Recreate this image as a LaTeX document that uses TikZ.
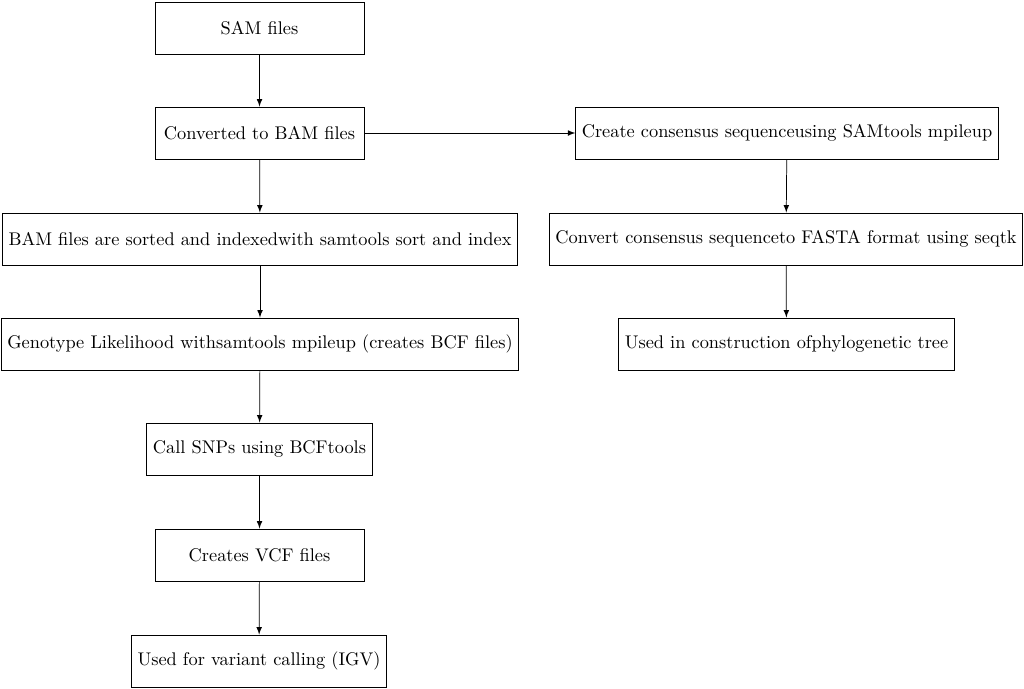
\documentclass[tikz,border=0pt]{standalone}
\usetikzlibrary{arrows}
\begin{document}
\begin{tikzpicture}[x=0.545pt,y=-0.545pt,
  stepbox/.style={draw, rectangle, minimum width=4cm, minimum height=1cm, inner sep=3.33pt, font=\normalsize},
  conn/.style={-latex}]
\useasboundingbox (0,0) rectangle (1024,688);
\node[stepbox] (sam) at (259.5,28) {SAM files};
\node[stepbox] (bam) at (259.5,133) {Converted to BAM files};
\node[stepbox] (sort) at (260,239) {BAM files are sorted and indexedwith samtools sort and index};
\node[stepbox] (geno) at (260,344) {Genotype Likelihood withsamtools mpileup (creates BCF files)};
\node[stepbox] (snp) at (259.5,449) {Call SNPs using BCFtools};
\node[stepbox] (vcf) at (259.5,555) {Creates VCF files};
\node[stepbox] (igv) at (259,661) {Used for variant calling (IGV)};
\node[stepbox] (cons) at (787,133) {Create consensus sequenceusing SAMtools mpileup};
\node[stepbox] (fasta) at (786,239) {Convert consensus sequenceto FASTA format using seqtk};
\node[stepbox] (tree) at (786.5,344) {Used in construction ofphylogenetic tree};
\draw[conn] (sam) -- (bam);
\draw[conn] (bam) -- (sort);
\draw[conn] (sort) -- (geno);
\draw[conn] (geno) -- (snp);
\draw[conn] (snp) -- (vcf);
\draw[conn] (vcf) -- (igv);
\draw[conn] (bam) -- (cons);
\draw[conn] (cons) -- (fasta);
\draw[conn] (fasta) -- (tree);
\end{tikzpicture}
\end{document}
